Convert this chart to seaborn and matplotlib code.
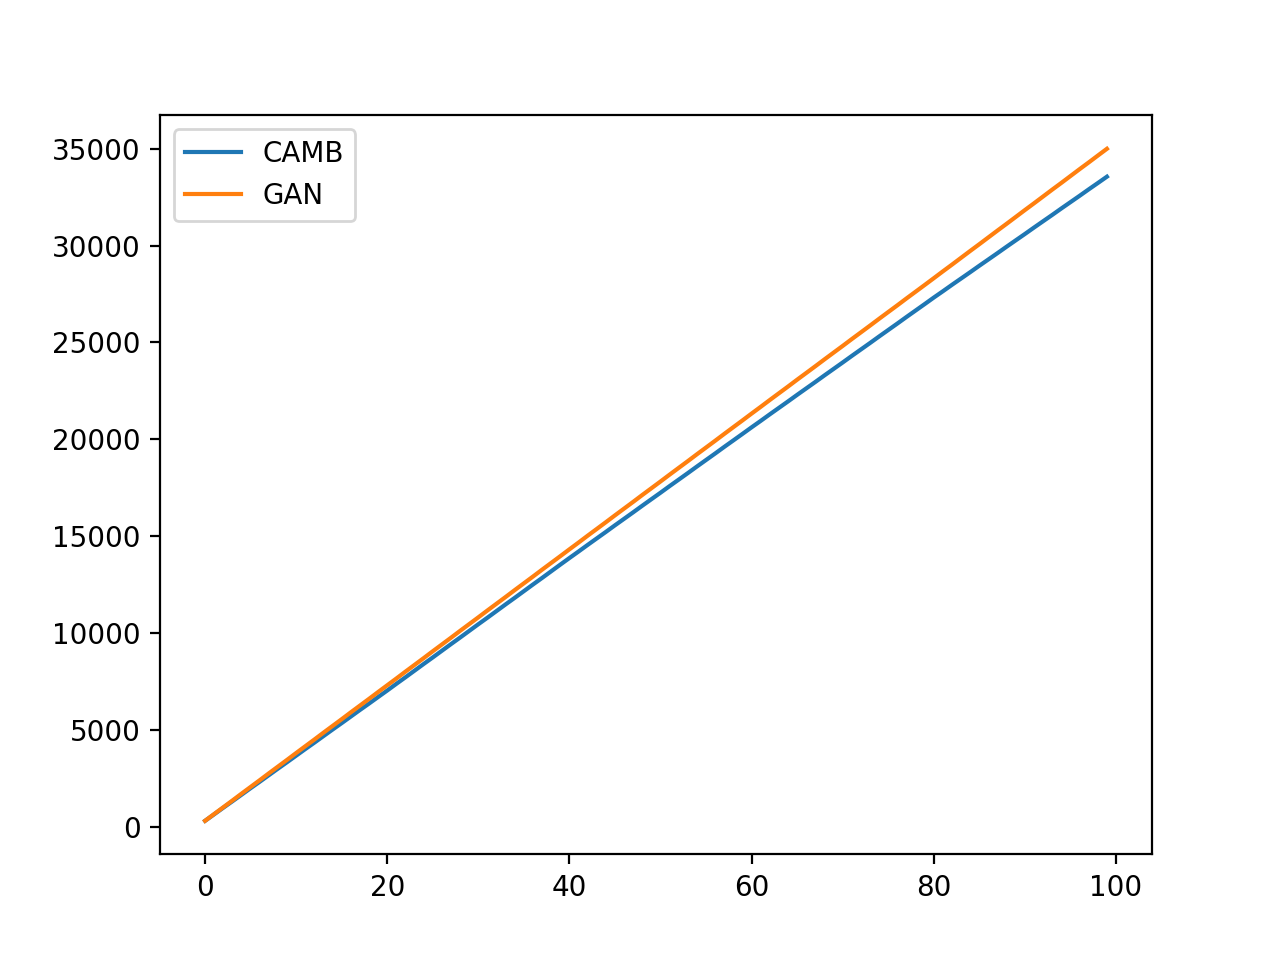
import matplotlib
matplotlib.use("Agg")
import matplotlib.pyplot as plt
import seaborn as sns
import numpy as np

steps = list(range(100))

camb = [300, 636, 975, 1308, 1646, 1985, 2317, 2656, 2994, 3327,
        3665, 4004, 4336, 4675, 5013, 5346, 5684, 6023, 6355, 6694,
        7030, 7374, 7712, 8056, 8400, 8738, 9082, 9426, 9764, 10108,
        10452, 10790, 11134, 11478, 11816, 12160, 12504, 12842, 13186, 13530,
        13870, 14206, 14547, 14883, 15218, 15560, 15895, 16231, 16572, 16908,
        17243, 17585, 17920, 18256, 18597, 18933, 19268, 19610, 19945, 20281,
        20620, 20953, 21292, 21625, 21958, 22297, 22630, 22963, 23302, 23635,
        23968, 24307, 24640, 24973, 25312, 25645, 25978, 26317, 26650, 26983,
        27320, 27646, 27979, 28305, 28632, 28964, 29290, 29617, 29949, 30276,
        30602, 30934, 31261, 31587, 31920, 32246, 32572, 32905, 33231, 33560]

gan = [300, 652, 1000, 1348, 1702, 2050, 2398, 2752, 3100, 3448,
       3802, 4150, 4498, 4852, 5200, 5548, 5902, 6250, 6598, 6952,
       7300, 7649, 8004, 8353, 8702, 9057, 9406, 9755, 10110, 10459,
       10808, 11163, 11512, 11861, 12216, 12565, 12914, 13269, 13618, 13967,
       14320, 14668, 15023, 15371, 15720, 16074, 16423, 16771, 17126, 17474,
       17823, 18177, 18526, 18874, 19229, 19577, 19926, 20280, 20629, 20977,
       21330, 21678, 22031, 22379, 22726, 23080, 23427, 23775, 24128, 24476,
       24823, 25177, 25524, 25872, 26225, 26573, 26920, 27274, 27621, 27969,
       28320, 28674, 29021, 29375, 29728, 30076, 30430, 30783, 31131, 31484,
       31838, 32186, 32539, 32893, 33240, 33594, 33948, 34295, 34649, 35000]

fig, ax = plt.subplots(figsize=(6.4, 4.8), dpi=200)
sns.lineplot(x=steps, y=camb, ax=ax, label="CAMB", color="#1f77b4")
sns.lineplot(x=steps, y=gan, ax=ax, label="GAN", color="#ff7f0e")
ax.legend(loc="upper left")
fig.savefig("out.png", dpi=200)
